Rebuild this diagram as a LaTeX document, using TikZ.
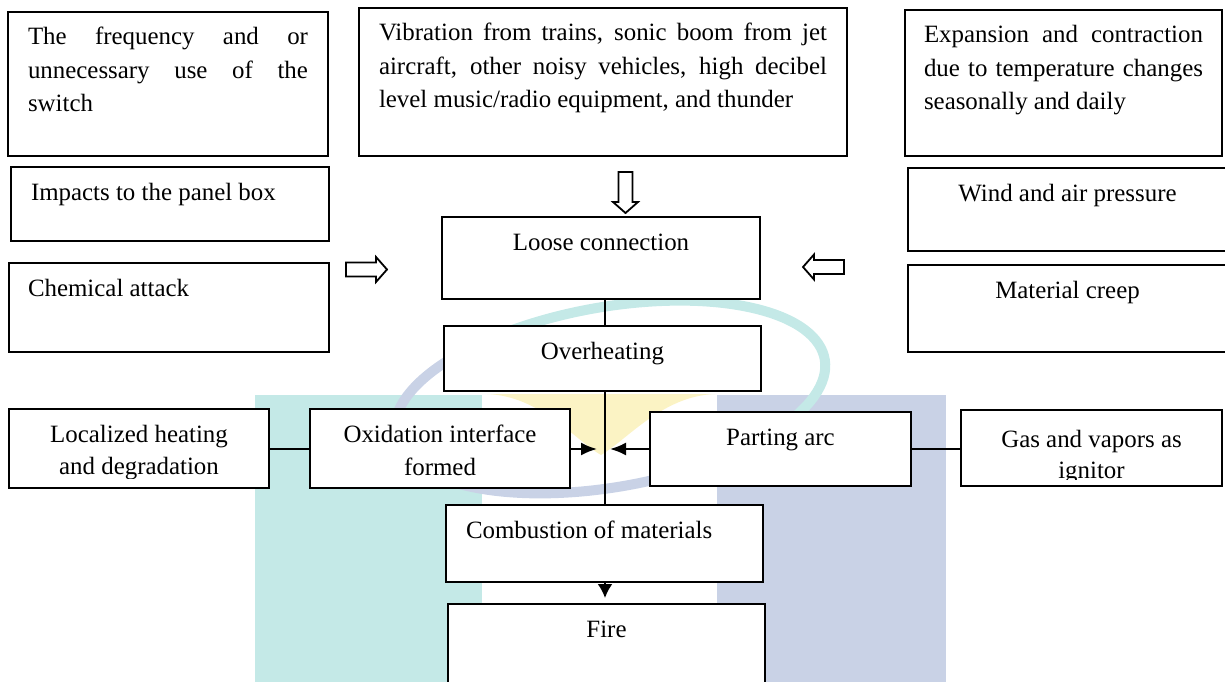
\documentclass[tikz,border=0pt]{standalone}
\usepackage{fontspec}
\setmainfont{Liberation Serif}
\usetikzlibrary{arrows.meta}

\definecolor{umpteal}{RGB}{196,233,231}
\definecolor{umplav}{RGB}{201,210,230}
\definecolor{umpsun}{RGB}{251,243,196}

\newcommand\bodyfont{\fontsize{24.9}{33.3}\selectfont}
% #1 text width, #2 box height, #3 alignment/setup, #4 lines (first baseline 33pt below the top)
\newcommand\cellbox[4]{\parbox[c][#2pt][t]{#1pt}{#3\rule{0pt}{33pt}#4}}
% a justified line spread over the full width
\newcommand\fullline[1]{\makebox[\linewidth][s]{#1}}

\begin{document}
\begin{tikzpicture}[x=1pt,y=-1pt,
  box/.style={draw, fill=white, line width=2.2pt, inner sep=0pt, outer sep=0pt, anchor=north west, font=\bodyfont},
  txt/.style={inner sep=0pt, outer sep=0pt, anchor=north west, font=\bodyfont},
  link/.style={line width=2pt},
  tip/.style={-{Latex[length=16pt,width=13pt]}},
  blockarrow/.style={draw, fill=white, line width=1.8pt, line join=miter},
  pics/fatarrow/.style={code={\path[blockarrow] (0,-7) -- (30,-7) -- (30,-12.5) -- (41,0) -- (30,12.5) -- (30,7) -- (0,7) -- cycle;}}
]
\useasboundingbox (0,0) rectangle (1225,682);
\clip (0,0) rectangle (1225,682);

% pale logo in the background
\fill[umpteal] (255,395) rectangle (482,700);
\fill[umplav] (717,395) rectangle (946,700);
\fill[umpsun] (487,394) .. controls (540,396) and (575,440) .. (601,455)
  .. controls (627,440) and (662,396) .. (715,394) -- cycle;
\begin{scope}[rotate around={10:(610,397)}, line width=10pt]
  \draw[umpteal] (610,397) ++(-40:218pt and 90pt)
    arc[start angle=-40, end angle=115, x radius=218pt, y radius=90pt];
  \draw[umplav] (610,397) ++(115:218pt and 90pt)
    arc[start angle=115, end angle=320, x radius=218pt, y radius=90pt];
\end{scope}

% causes
\node[box, inner xsep=20pt] (fq) at (8,12) {\cellbox{280}{144}{}{\fullline{The frequency and or}\\\fullline{unnecessary use of the}\\switch}};
\node[box, inner xsep=20pt] (vb) at (359,8) {\cellbox{448}{148}{}{\fullline{Vibration from trains, sonic boom from jet}\\\fullline{aircraft, other noisy vehicles, high decibel}\\level music/radio equipment, and thunder}};
\node[box, inner xsep=19pt] (ex) at (905,10) {\cellbox{279}{146}{}{\fullline{Expansion and contraction}\\\fullline{due to temperature changes}\\seasonally and daily}};
\node[box, inner xsep=20pt] (ip) at (11,167) {\cellbox{278}{74}{\raggedright}{Impacts to the panel box}};
\node[box, inner xsep=19pt] (ch) at (9,263) {\cellbox{282}{89}{\raggedright}{Chemical attack}};
\node[box] (wd) at (908,168) {\cellbox{319}{83}{\centering}{Wind and air pressure}};
\node[box] (mc) at (908,265) {\cellbox{319}{87}{\centering}{Material creep}};

% main chain
\node[box] (lc) at (442,217) {\cellbox{318}{82}{\centering}{Loose connection}};
\node[box] (oh) at (444,326) {\cellbox{317}{65}{\centering}{Overheating}};
\node[box] (ox) at (310,409) {\cellbox{260}{79}{\centering}{Oxidation interface\\formed}};
\node[box] (pa) at (650,412) {\cellbox{261}{74}{\centering}{Parting arc}};
\node[box, inner xsep=20pt] (cm) at (446,505) {\cellbox{277}{77}{\raggedright}{Combustion of materials}};
\node[box] (fi) at (448,604) {\cellbox{317}{100}{\centering}{Fire}};

% side boxes whose text is cut by the frame
\node[box, minimum width=260pt, minimum height=79pt] (lh) at (9,409) {};
\begin{scope}
  \clip (lh.north west) rectangle ([yshift=10pt]lh.south east);
  \node[txt] (lh-text) at (lh.north west) {\cellbox{260}{79}{\centering\baselineskip=32.5pt}{Localized heating\\and degradation}};
\end{scope}
\node[box, minimum width=261pt, minimum height=76pt] (gs) at (961,410) {};
\begin{scope}
  \clip (gs.north west) rectangle ([yshift=7pt]gs.south east);
  \node[txt] (gs-text) at (gs.north west) {\cellbox{261}{76}{\centering\baselineskip=31pt}{\rule{0pt}{37pt}Gas and vapors as\\ignitor}};
\end{scope}

% connectors
\coordinate (spine) at (605,0);
\coordinate (hub) at (605,449);
\draw[link] (lc.south -| spine) -- (oh.north -| spine);
\draw[link] (oh.south -| spine) -- (cm.north -| spine);
\draw[link] (lh.east |- hub) -- (ox.west |- hub);
\draw[link] (pa.east |- hub) -- (gs.west |- hub);
\draw[link, tip, shorten >=8pt] (ox.east |- hub) -- (hub);
\draw[link, tip, shorten >=5pt] (pa.west |- hub) -- (hub);
\draw[link, -{Latex[length=14pt,width=15pt]}, shorten >=6pt] (cm.south -| spine) -- (fi.north -| spine);

% hollow block arrows pointing at the loose connection
\pic at (346,269.5) {fatarrow};
\pic[rotate=180] at (844,267) {fatarrow};
\pic[rotate=-90] at (625.5,172) {fatarrow};
\end{tikzpicture}
\end{document}
